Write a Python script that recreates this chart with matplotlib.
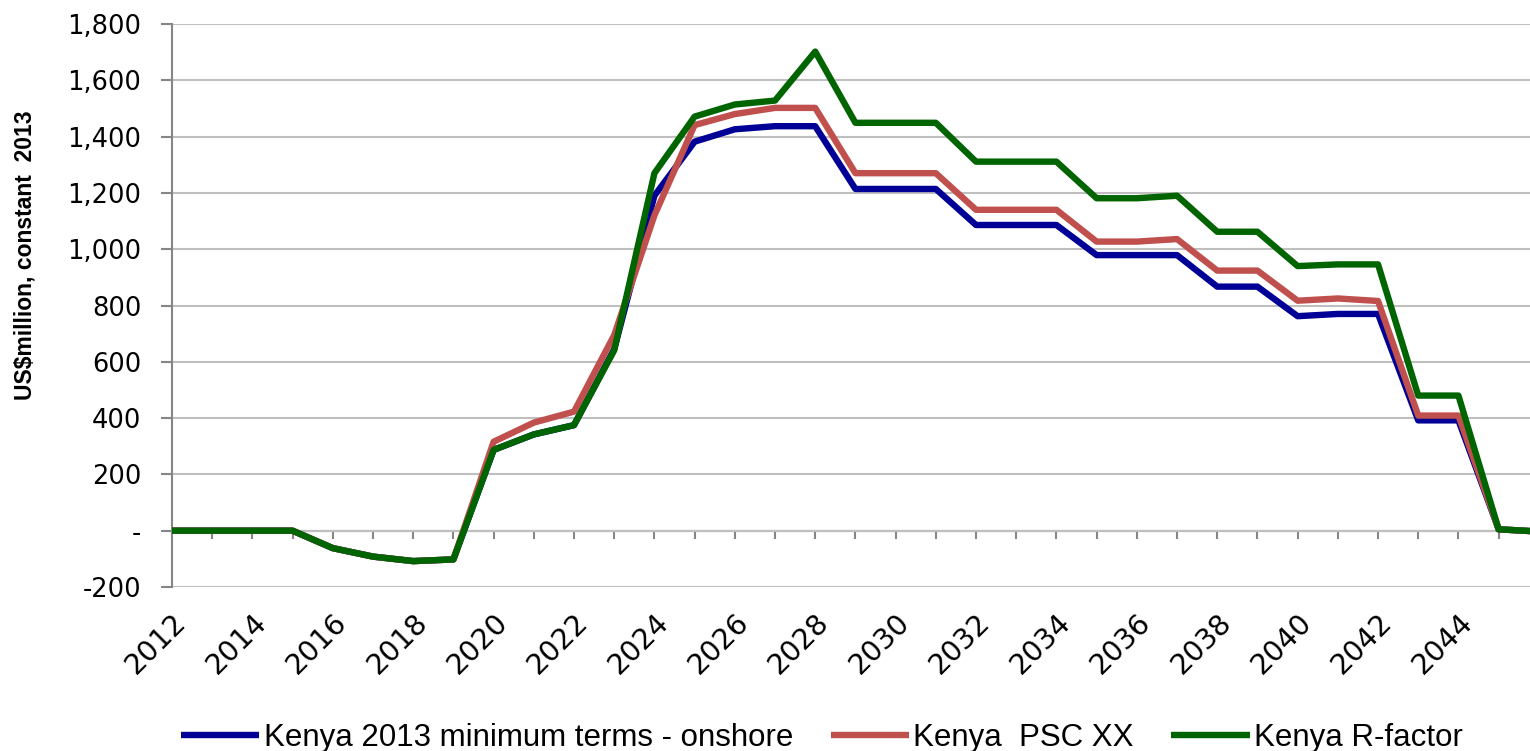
import matplotlib.pyplot as plt
from matplotlib.ticker import FuncFormatter, MultipleLocator

plt.switch_backend('Agg')

years = list(range(2012, 2047))
label_years = list(range(2012, 2045, 2))

min_terms = [0, 0, 0, 0, -62, -92, -108, -102, 287, 342, 375, 645, 1190, 1382, 1426,
             1437, 1437, 1214, 1214, 1214, 1086, 1086, 1086, 979, 979, 979, 867, 867,
             762, 770, 770, 392, 392, 5, -3]
psc_xx = [0, 0, 0, 0, -62, -92, -108, -102, 316, 384, 423, 695, 1120, 1441, 1480,
          1502, 1502, 1270, 1270, 1270, 1140, 1140, 1140, 1027, 1027, 1036, 924, 924,
          817, 825, 816, 409, 409, 5, -3]
r_factor = [0, 0, 0, 0, -62, -92, -108, -102, 287, 342, 375, 641, 1270, 1471, 1514,
            1528, 1702, 1449, 1449, 1449, 1311, 1311, 1311, 1181, 1181, 1190, 1062, 1062,
            940, 946, 946, 480, 480, 5, -3]

series_names = ["Kenya 2013 minimum terms - onshore", "Kenya  PSC XX", "Kenya R-factor"]
colors = ["#000096", "#C0504D", "#006400"]


def main():
    fig = plt.figure(figsize=(15.3, 7.51), dpi=100)
    ax = fig.add_axes([172 / 1530, 164 / 751, 1358 / 1530, 563 / 751])

    for vals, name, c in zip([min_terms, psc_xx, r_factor], series_names, colors):
        ax.plot(years, vals, color=c, lw=4.6, label=name, solid_joinstyle='round',
                solid_capstyle='butt', zorder=3)

    ax.set_xlim(2012, 2045.78)
    ax.set_ylim(-200, 1800)
    ax.yaxis.set_major_locator(MultipleLocator(200))
    ax.yaxis.set_major_formatter(FuncFormatter(lambda v, p: '-' if v == 0 else f'{v:,.0f}'))
    ax.grid(axis='y', color='#BFBFBF', lw=1.5)
    ax.set_axisbelow(True)

    for s in ['top', 'right', 'bottom']:
        ax.spines[s].set_visible(False)
    ax.spines['left'].set_color('#868686')
    ax.spines['left'].set_linewidth(1.5)
    ax.tick_params(axis='y', length=8, width=1.5, color='#868686', pad=14, labelsize=18.5)

    # year labels sit below the plot, tick marks on the zero line
    ax.set_xticks(label_years)
    ax.set_xticklabels([str(y) for y in label_years], rotation=45, ha='right',
                       va='top', rotation_mode='anchor', fontsize=20.5)
    ax.tick_params(axis='x', length=0, pad=15)

    sec = ax.secondary_xaxis(0.1)
    sec.set_xticks(years)
    sec.set_xticklabels([])
    sec.spines['bottom'].set_color('#868686')
    sec.spines['bottom'].set_linewidth(1.5)
    sec.tick_params(axis='x', length=6, width=1.5, color='#868686', direction='out')

    ax.set_ylabel("US$million, constant  2013", fontsize=16.5, fontweight='bold',
                  family=['Liberation Sans', 'DejaVu Sans'])
    ax.yaxis.set_label_coords(-0.1, 0.59)

    fig.legend(loc='center', bbox_to_anchor=(822 / 1530, 1 - 738 / 751), ncol=3,
               frameon=False, handlelength=2.5, handletextpad=0.15, columnspacing=1.2,
               prop={'family': ['Liberation Sans', 'DejaVu Sans'], 'size': 22.5})

    fig.savefig('out.png', dpi=100)
    plt.close(fig)


if __name__ == '__main__':
    main()
